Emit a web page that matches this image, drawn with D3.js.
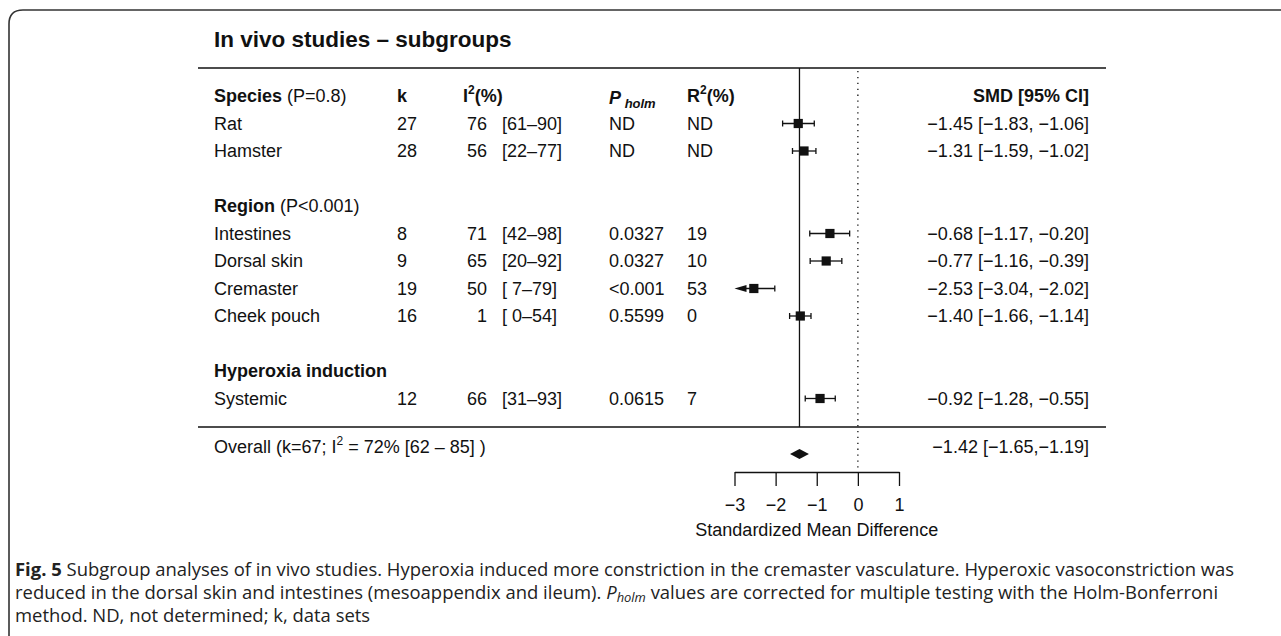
<!DOCTYPE html>
<html>
<head>
<meta charset="utf-8">
<script src="https://cdn.jsdelivr.net/npm/d3@7"></script>
<style>
  body { margin: 0; background: #fff; }
  text { font-family: "Liberation Sans", Arial, Helvetica, sans-serif; fill: #111; white-space: pre; }
  .cap { font-family: "Open Sans", "Noto Sans", sans-serif; fill: #222; }
</style>
</head>
<body>
<svg id="chart" width="1281" height="636"></svg>
<script>
// data
const labels = ['Rat', 'Hamster', 'Intestines', 'Dorsal skin', 'Cremaster', 'Cheek pouch', 'Systemic'];
const rowIdx = [1, 2, 5, 6, 7, 8, 11];
const kVals = [27, 28, 8, 9, 19, 16, 12];
const i2Vals = [76, 56, 71, 65, 50, 1, 66];
const i2Ci = ['[61–90]', '[22–77]', '[42–98]', '[20–92]', '[ 7–79]', '[ 0–54]', '[31–93]'];
const pHolm = ['ND', 'ND', '0.0327', '0.0327', '<0.001', '0.5599', '0.0615'];
const r2Vals = ['ND', 'ND', '19', '10', '53', '0', '7'];
const smd = [-1.45, -1.31, -0.68, -0.77, -2.53, -1.40, -0.92];
const smdLo = [-1.83, -1.59, -1.17, -1.16, -3.04, -1.66, -1.28];
const smdHi = [-1.06, -1.02, -0.20, -0.39, -2.02, -1.14, -0.55];
const groups = [
  { name: 'Species', note: ' (P=0.8)', row: 0 },
  { name: 'Region', note: ' (P<0.001)', row: 4 },
  { name: 'Hyperoxia induction', note: '', row: 10 }
];
const overall = { est: -1.42, lo: -1.65, hi: -1.19, label: '−1.42 [−1.65,−1.19]' };
const axisTicks = [-3, -2, -1, 0, 1];

const fs = 18;
const col = { label: 214, k: 397, i2: 487, i2ci: 502, p: 609, r2: 687, smd: 1089 };

const svg = d3.select('#chart');
svg.append('rect').attr('width', 1281).attr('height', 636).attr('fill', '#fff');

const x = d3.scaleLinear().domain([-3, 1]).range([734.5, 899]);
const y = d3.scaleLinear().domain([0, 11]).range([96, 398.5]);
const fmt = v => (v < 0 ? '−' : '') + Math.abs(v).toFixed(2);

// frame (top + left with rounded corner)
svg.append('path')
  .attr('d', 'M9,636 L9,24 Q9,10 23,10 L1281,10')
  .attr('fill', 'none').attr('stroke', '#333').attr('stroke-width', 1.6);

svg.append('text').attr('x', col.label).attr('y', 47)
  .attr('font-size', 22.5).attr('font-weight', 'bold')
  .text('In vivo studies – subgroups');

// rules
[68, 427].forEach(yy => {
  svg.append('line').attr('x1', 198).attr('x2', 1106).attr('y1', yy).attr('y2', yy)
    .attr('stroke', '#111').attr('stroke-width', 1.4);
});
svg.append('line').attr('x1', x(overall.est)).attr('x2', x(overall.est))
  .attr('y1', 68).attr('y2', 427).attr('stroke', '#111').attr('stroke-width', 1.3);
svg.append('line').attr('x1', x(0)).attr('x2', x(0))
  .attr('y1', 71).attr('y2', 468).attr('stroke', '#111').attr('stroke-width', 1.3)
  .attr('stroke-dasharray', '1.3,4.6');

const base = r => y(r) + 6.4;

// header row
const header = svg.append('g').attr('font-size', fs);
header.append('text').attr('x', col.k).attr('y', base(0)).attr('font-weight', 'bold').text('k');
const i2h = header.append('text').attr('x', 463).attr('y', base(0)).attr('font-weight', 'bold');
i2h.append('tspan').text('I');
i2h.append('tspan').attr('font-size', 12).attr('dy', -8).text('2');
i2h.append('tspan').attr('dy', 8).text('(%)');
const ph = header.append('text').attr('x', col.p).attr('y', base(0) + 2)
  .attr('font-weight', 'bold').attr('font-style', 'italic');
ph.append('tspan').text('P');
ph.append('tspan').attr('font-size', 13).attr('dy', 4).text(' holm');
const r2h = header.append('text').attr('x', col.r2).attr('y', base(0)).attr('font-weight', 'bold');
r2h.append('tspan').text('R');
r2h.append('tspan').attr('font-size', 12).attr('dy', -8).text('2');
r2h.append('tspan').attr('dy', 8).text('(%)');
header.append('text').attr('x', col.smd).attr('y', base(0)).attr('text-anchor', 'end')
  .attr('font-weight', 'bold').text('SMD [95% CI]');

// group labels
groups.forEach(g => {
  const t = svg.append('text').attr('x', col.label).attr('y', base(g.row)).attr('font-size', fs);
  t.append('tspan').attr('font-weight', 'bold').text(g.name);
  if (g.note) t.append('tspan').text(g.note);
});

// study rows
const rows = svg.append('g').attr('font-size', fs);
labels.forEach((lab, i) => {
  const b = base(rowIdx[i]);
  rows.append('text').attr('x', col.label).attr('y', b).text(lab);
  rows.append('text').attr('x', col.k).attr('y', b).text(kVals[i]);
  rows.append('text').attr('x', col.i2).attr('y', b).attr('text-anchor', 'end').text(i2Vals[i]);
  rows.append('text').attr('x', col.i2ci).attr('y', b).text(i2Ci[i]);
  rows.append('text').attr('x', col.p).attr('y', b).text(pHolm[i]);
  rows.append('text').attr('x', col.r2).attr('y', b).text(r2Vals[i]);
  rows.append('text').attr('x', col.smd).attr('y', b).attr('text-anchor', 'end')
    .text(`${fmt(smd[i])} [${fmt(smdLo[i])}, ${fmt(smdHi[i])}]`);
});

// CI whiskers, squares, arrow where CI leaves the axis range
const marks = svg.append('g').attr('stroke', '#111').attr('fill', '#111');
labels.forEach((lab, i) => {
  const yy = y(rowIdx[i]);
  const clipped = smdLo[i] < x.domain()[0];
  const xl = clipped ? x(x.domain()[0]) : x(smdLo[i]);
  const xh = x(smdHi[i]);
  marks.append('line').attr('x1', clipped ? xl + 8 : xl).attr('x2', xh).attr('y1', yy).attr('y2', yy)
    .attr('stroke-width', 1.3);
  marks.append('line').attr('x1', xh).attr('x2', xh).attr('y1', yy - 3).attr('y2', yy + 3).attr('stroke-width', 1.3);
  if (clipped) {
    marks.append('path').attr('stroke', 'none')
      .attr('d', `M${xl},${yy} L${xl + 12},${yy - 3.5} L${xl + 12},${yy + 3.5} Z`);
  } else {
    marks.append('line').attr('x1', xl).attr('x2', xl).attr('y1', yy - 3).attr('y2', yy + 3).attr('stroke-width', 1.3);
  }
  marks.append('rect').attr('stroke', 'none')
    .attr('x', x(smd[i]) - 4.6).attr('y', yy - 4.6).attr('width', 9.2).attr('height', 9.2);
});

// overall row
const ov = svg.append('text').attr('x', col.label).attr('y', 447 + 6.4).attr('font-size', fs);
ov.append('tspan').text('Overall (k=67; I');
ov.append('tspan').attr('font-size', 12).attr('dy', -8).text('2');
ov.append('tspan').attr('dy', 8).text(' = 72% [62 – 85] )');
svg.append('text').attr('x', col.smd).attr('y', 447 + 6.4).attr('font-size', fs)
  .attr('text-anchor', 'end').text(overall.label);
const dy0 = 454;
svg.append('path').attr('fill', '#111')
  .attr('d', `M${x(overall.lo)},${dy0} L${x(overall.est)},${dy0 - 5} L${x(overall.hi)},${dy0} L${x(overall.est)},${dy0 + 5} Z`);

// x axis
const axis = svg.append('g').attr('transform', 'translate(0,472)')
  .call(d3.axisBottom(x).tickValues(axisTicks).tickFormat(d3.format('d'))
    .tickSize(14).tickSizeOuter(0).tickPadding(12));
axis.selectAll('path,line').attr('stroke', '#111').attr('stroke-width', 1.3);
axis.selectAll('text').attr('font-size', fs).attr('fill', '#111')
  .style('font-family', '"Liberation Sans", Arial, sans-serif');
svg.append('text').attr('x', x(-1)).attr('y', 536).attr('font-size', fs)
  .attr('text-anchor', 'middle').text('Standardized Mean Difference');

// caption
const capFs = 16;
const cap = svg.append('g').attr('class', 'cap').attr('font-size', capFs);
const l1 = cap.append('text').attr('class', 'cap').attr('x', 15).attr('y', 576);
l1.append('tspan').attr('font-weight', 'bold').text('Fig. 5');
l1.append('tspan').text(' Subgroup analyses of in vivo studies. Hyperoxia induced more constriction in the cremaster vasculature. Hyperoxic vasoconstriction was');
const l2 = cap.append('text').attr('class', 'cap').attr('x', 15).attr('y', 599);
l2.append('tspan').text('reduced in the dorsal skin and intestines (mesoappendix and ileum). ');
l2.append('tspan').attr('font-style', 'italic').text('P');
l2.append('tspan').attr('font-style', 'italic').attr('font-size', capFs * 0.7).attr('dy', 3).text('holm');
l2.append('tspan').attr('dy', -3).text(' values are corrected for multiple testing with the Holm-Bonferroni');
cap.append('text').attr('class', 'cap').attr('x', 15).attr('y', 622).text('method. ND, not determined; k, data sets');

// fit the caption width to the figure
const len = l1.node().getComputedTextLength();
const k = 1220 / len;
cap.attr('font-size', capFs * k);
l2.selectAll('tspan').filter((d, i) => i === 2).attr('font-size', capFs * k * 0.7);
</script>
</body>
</html>
